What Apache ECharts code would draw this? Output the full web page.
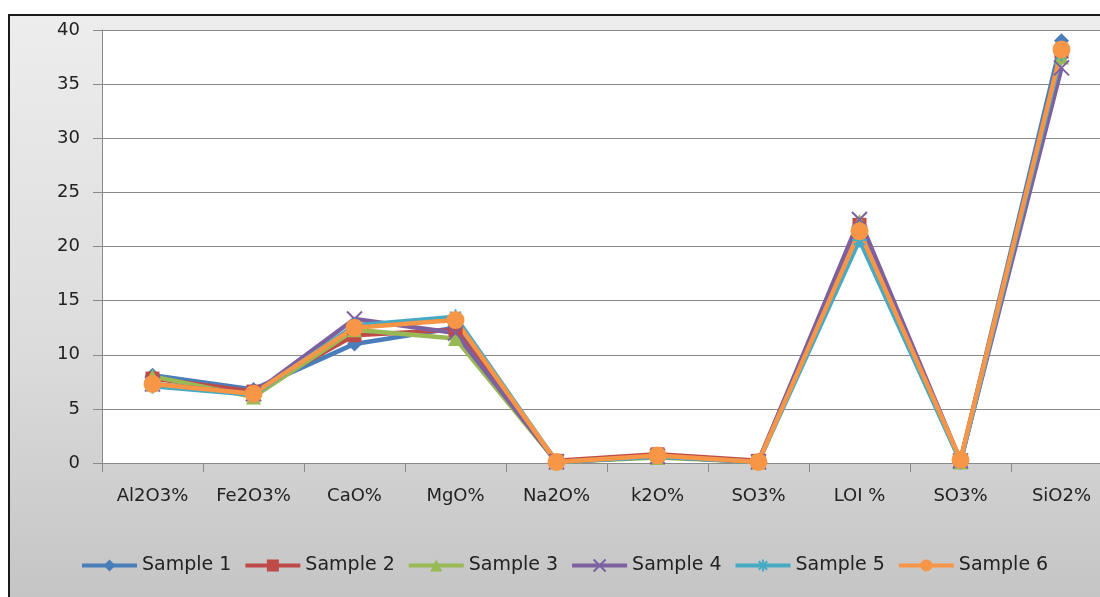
<!DOCTYPE html>
<html>
<head>
<meta charset="utf-8">
<script src="https://cdn.jsdelivr.net/npm/echarts@6/dist/echarts.min.js"></script>
<style>
  html, body { margin: 0; padding: 0; background: #ffffff; overflow: hidden; width: 1100px; height: 597px; }
  #frame {
    position: absolute; left: 8px; top: 14px; width: 1100px; height: 600px;
    border-left: 2px solid #1a1a1a; border-top: 2px solid #1a1a1a;
    background: linear-gradient(to bottom, #ededed 0%, #dcdcdc 55%, #c3c3c3 100%);
  }
  #chart { position: absolute; left: 0; top: 0; width: 1130px; height: 597px; }
</style>
</head>
<body>
<div id="frame"></div>
<div id="chart"></div>
<script>
// Oxide composition of six samples (%)
const categories = ['Al2O3%', 'Fe2O3%', 'CaO%', 'MgO%', 'Na2O%', 'k2O%', 'SO3%', 'LOI %', 'SO3%', 'SiO2%'];
const yTicks = [0, 5, 10, 15, 20, 25, 30, 35, 40];

const sample1 = [8.1, 6.8, 11.0, 12.5, 0.1, 0.7, 0.1, 21.5, 0.2, 39.0];
const sample2 = [7.8, 6.6, 11.8, 12.3, 0.2, 0.8, 0.2, 22.0, 0.2, 38.0];
const sample3 = [8.0, 6.1, 12.3, 11.5, 0.1, 0.5, 0.1, 22.3, 0.1, 37.5];
const sample4 = [7.3, 6.4, 13.3, 12.0, 0.1, 0.6, 0.1, 22.5, 0.2, 36.5];
const sample5 = [7.1, 6.3, 12.7, 13.5, 0.1, 0.6, 0.1, 20.6, 0.1, 37.8];
const sample6 = [7.3, 6.4, 12.5, 13.2, 0.1, 0.7, 0.1, 21.4, 0.3, 38.2];

const seriesNames = ['Sample 1', 'Sample 2', 'Sample 3', 'Sample 4', 'Sample 5', 'Sample 6'];
const seriesData = [sample1, sample2, sample3, sample4, sample5, sample6];
const colors = ['#4a7ebb', '#be4b48', '#98b954', '#7d60a0', '#46aac5', '#f79646'];

const crossPath = 'path://M0,0L10,10M10,0L0,10';
const starPath = 'path://M5,0L5,10M0,5L10,5M1.5,1.5L8.5,8.5M8.5,1.5L1.5,8.5';
const symbols = ['diamond', 'rect', 'triangle', crossPath, starPath, 'circle'];
const symbolSizes = [15, 14, 15, 15, 15, 18];

const font = '"DejaVu Sans", sans-serif';

const chart = echarts.init(document.getElementById('chart'), null, { renderer: 'canvas' });

chart.setOption({
  backgroundColor: 'transparent',
  animation: false,
  color: colors,
  grid: {
    left: 102, top: 30, width: 1010, height: 433,
    show: true, backgroundColor: '#ffffff', borderWidth: 0
  },
  legend: {
    top: 551, left: 75,
    itemWidth: 55, itemHeight: 15, itemGap: 12,
    data: seriesNames,
    lineStyle: { width: 4 },
    textStyle: { fontFamily: font, fontSize: 19, color: '#222' }
  },
  xAxis: {
    type: 'category',
    data: categories,
    boundaryGap: true,
    axisLine: { lineStyle: { color: '#8a8a8a', width: 1 } },
    axisTick: { show: true, length: 9, alignWithLabel: false, lineStyle: { color: '#8a8a8a' } },
    axisLabel: { fontFamily: font, fontSize: 18, color: '#222', margin: 24, interval: 0 }
  },
  yAxis: {
    type: 'value',
    min: yTicks[0], max: yTicks[yTicks.length - 1], interval: 5,
    axisLine: { show: true, lineStyle: { color: '#8a8a8a', width: 1 } },
    axisTick: { show: true, inside: false, length: 9, lineStyle: { color: '#8a8a8a' } },
    splitLine: { lineStyle: { color: '#8a8a8a', width: 1 } },
    axisLabel: { fontFamily: font, fontSize: 18, color: '#222', margin: 22 }
  },
  series: seriesNames.map((name, i) => ({
    name: name,
    type: 'line',
    data: seriesData[i],
    symbol: symbols[i],
    symbolSize: symbolSizes[i],
    showAllSymbol: true,
    lineStyle: { width: 4.5, color: colors[i] },
    itemStyle: (i === 3 || i === 4)
      ? { color: colors[i], borderColor: colors[i], borderWidth: 2 }
      : { color: colors[i] },
    emphasis: { disabled: true }
  }))
});
</script>
</body>
</html>
